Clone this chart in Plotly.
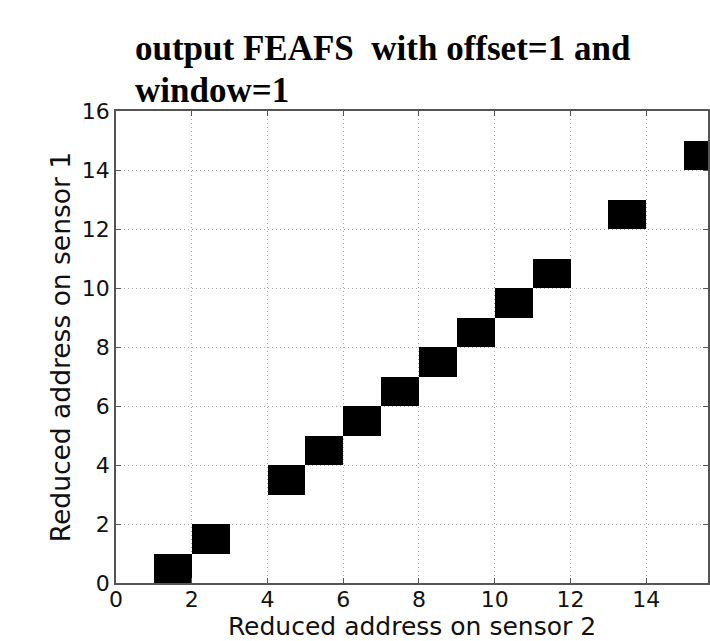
import plotly.graph_objects as go

# Data: cells (sensor-2 address, sensor-1 address) that are set
sensor2_addr = [1, 2, 4, 5, 6, 7, 8, 9, 10, 11, 13, 15]
sensor1_addr = [0, 1, 3, 4, 5, 6, 7, 8, 9, 10, 12, 14]
n_cells = 16
tick_vals = [0, 2, 4, 6, 8, 10, 12, 14, 16]
title_lines = ["output FEAFS  with offset=1 and", "window=1"]

z = [[None] * n_cells for _ in range(n_cells)]
for xs, ys in zip(sensor2_addr, sensor1_addr):
    z[ys][xs] = 1

centers = [i + 0.5 for i in range(n_cells)]

fig = go.Figure(go.Heatmap(
    x=centers, y=centers, z=z,
    colorscale=[[0, "black"], [1, "black"]],
    showscale=False, hoverinfo="skip",
))

axis_common = dict(
    showline=True, linecolor="#555555", linewidth=1.5, mirror="ticks",
    ticks="inside", ticklen=5, tickcolor="#555555",
    showgrid=True, gridcolor="#a8a8a8", griddash="1px,3px", gridwidth=1,
    zeroline=False, tickvals=tick_vals,
    tickfont=dict(family="DejaVu Sans", size=22, color="#111111"),
)

plot_top, plot_bottom = 111, 583
for line, ypix in zip(title_lines, [48, 90]):
    fig.add_annotation(
        text=line, showarrow=False,
        xref="paper", yref="paper",
        x=(133 - 116) / 594, xanchor="left",
        y=(plot_bottom - ypix) / (plot_bottom - plot_top), yanchor="middle",
        font=dict(family="Liberation Serif", size=35, color="black", weight="bold"),
    )

fig.update_layout(
    width=710, height=641,
    margin=dict(l=116, r=0, t=plot_top, b=641 - plot_bottom),
    paper_bgcolor="white", plot_bgcolor="white",
    xaxis=dict(range=[0, 594 / 38.0], ticklabelstandoff=-4,
               title=dict(text="Reduced address on sensor 2",
                          font=dict(family="DejaVu Sans", size=25, color="#111111"), standoff=0),
               **axis_common),
    yaxis=dict(range=[0, 16], title=dict(text="Reduced address on sensor 1",
               font=dict(family="DejaVu Sans", size=26.5, color="#111111"), standoff=4),
               **axis_common),
)

fig.write_html("out.html")
